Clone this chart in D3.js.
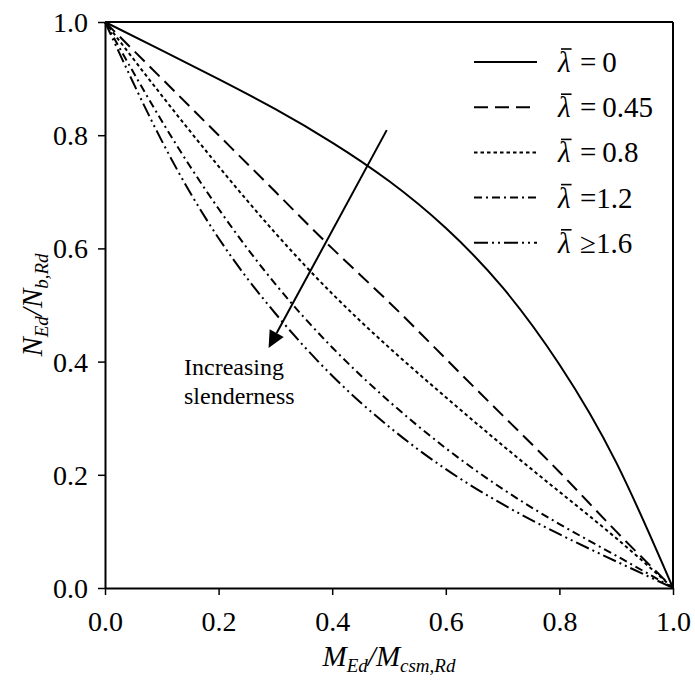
<!DOCTYPE html>
<html>
<head>
<meta charset="utf-8">
<script src="https://cdn.jsdelivr.net/npm/d3@7"></script>
<style>
  html, body { margin: 0; padding: 0; background: #fff; }
  svg { display: block; }
  svg text { font-family: "Liberation Serif", "Tinos", "Times New Roman", "Nimbus Roman", "DejaVu Serif", serif; fill: #000; }
</style>
</head>
<body>
<svg id="chart" width="695" height="682"></svg>
<script>
// ---- data ----
const xValues   = [0, 0.1, 0.2, 0.3, 0.4, 0.5, 0.6, 0.7, 0.8, 0.9, 1.0];
const lambda0   = [1, 0.950, 0.899, 0.846, 0.787, 0.719, 0.636, 0.531, 0.395, 0.222, 0];
const lambda045 = [1, 0.90, 0.80, 0.70, 0.60, 0.505, 0.405, 0.305, 0.205, 0.10, 0];
const lambda08  = [1, 0.87, 0.745, 0.627, 0.52, 0.425, 0.337, 0.252, 0.17, 0.088, 0];
const lambda12  = [1, 0.825, 0.67, 0.537, 0.425, 0.33, 0.247, 0.175, 0.113, 0.057, 0];
const lambda16  = [1, 0.79, 0.618, 0.485, 0.375, 0.285, 0.21, 0.148, 0.095, 0.047, 0];
const seriesOps    = ["=", "=", "=", "=", "≥"];
const seriesLabels = ["0", "0.45", "0.8", "1.2", "1.6"];
const xTicks = [0, 0.2, 0.4, 0.6, 0.8, 1.0];
const yTicks = [0, 0.2, 0.4, 0.6, 0.8, 1.0];
const annotationLines = ["Increasing", "slenderness"];
const arrowFrom = [0.496, 0.809];
const arrowTo   = [0.288, 0.424];

// ---- layout ----
const FONT = "'Liberation Serif','Tinos','Times New Roman','Nimbus Roman','DejaVu Serif',serif";
const svg = d3.select("#chart");
const pL = 105, pR = 673, pT = 22, pB = 588;
const x = d3.scaleLinear().domain([0, 1]).range([pL, pR]);
const y = d3.scaleLinear().domain([0, 1]).range([pB, pT]);

const seriesValues = [lambda0, lambda045, lambda08, lambda12, lambda16];
const dashes = [null, "14,7", "3.5,3", "8,4,2,4", "14,4,2,4,2,4"];

const line = d3.line()
  .x(d => x(d[0])).y(d => y(d[1]))
  .curve(d3.curveNatural);

// frame (top & right)
svg.append("line").attr("x1", pL).attr("x2", pR).attr("y1", pT).attr("y2", pT)
  .attr("stroke", "#000").attr("stroke-width", 2);
svg.append("line").attr("x1", pR).attr("x2", pR).attr("y1", pT).attr("y2", pB)
  .attr("stroke", "#000").attr("stroke-width", 2);

// curves
seriesValues.forEach((vals, i) => {
  const pts = xValues.map((xv, j) => [xv, vals[j]]);
  svg.append("path").datum(pts)
    .attr("d", line)
    .attr("fill", "none")
    .attr("stroke", "#000")
    .attr("stroke-width", 2)
    .attr("stroke-dasharray", dashes[i]);
});

// axes
const fmt = d3.format(".1f");
const gx = svg.append("g").attr("transform", `translate(0,${pB})`)
  .call(d3.axisBottom(x).tickValues(xTicks).tickFormat(fmt).tickSizeInner(7).tickSizeOuter(0).tickPadding(10));
const gy = svg.append("g").attr("transform", `translate(${pL},0)`)
  .call(d3.axisLeft(y).tickValues(yTicks).tickFormat(fmt).tickSizeInner(7).tickSizeOuter(0).tickPadding(10));
[gx, gy].forEach(g => {
  g.attr("font-family", null).attr("font-size", null);
  g.select(".domain").attr("stroke", "#000").attr("stroke-width", 2);
  g.selectAll(".tick line").attr("stroke", "#000").attr("stroke-width", 1.5);
  g.selectAll(".tick text").style("font-family", FONT)
    .style("font-size", "28px").attr("fill", "#000");
});
gx.selectAll(".tick text").attr("dy", "0.93em");
gy.selectAll(".tick text").attr("dy", "0.34em");

// axis titles
const xt = svg.append("text")
  .attr("x", (pL + pR) / 2).attr("y", 666)
  .attr("text-anchor", "middle").style("font-family", FONT)
  .style("font-size", "29px").style("font-style", "italic");
xt.append("tspan").text("M");
xt.append("tspan").attr("dy", 6).style("font-size", "19px").text("Ed");
xt.append("tspan").attr("dy", -6).text("/M");
xt.append("tspan").attr("dy", 6).style("font-size", "19px").text("csm,Rd");

const yt = svg.append("text")
  .attr("transform", `translate(42,${y(0.5)}) rotate(-90)`)
  .attr("text-anchor", "middle").style("font-family", FONT)
  .style("font-size", "29px").style("font-style", "italic");
yt.append("tspan").text("N");
yt.append("tspan").attr("dy", 6).style("font-size", "19px").text("Ed");
yt.append("tspan").attr("dy", -6).text("/N");
yt.append("tspan").attr("dy", 6).style("font-size", "19px").text("b,Rd");

// legend
const legY0 = 62, legDy = 45.2;
const gapAfterOp = ["\u2009", "\u2009", "\u2009", "", ""];
seriesLabels.forEach((lab, i) => {
  const ly = legY0 + i * legDy;
  svg.append("line").attr("x1", 474).attr("x2", 537).attr("y1", ly).attr("y2", ly)
    .attr("stroke", "#000").attr("stroke-width", 2).attr("stroke-dasharray", dashes[i]);
  const lam = svg.append("text").attr("x", 558).attr("y", ly + 10)
    .style("font-family", FONT).style("font-size", "29px").style("font-style", "italic").text("λ");
  const bb = lam.node().getBBox();
  svg.append("line").attr("x1", bb.x + 4).attr("x2", bb.x + bb.width + 1)
    .attr("y1", bb.y + 3).attr("y2", bb.y + 3)
    .attr("stroke", "#000").attr("stroke-width", 1.6);
  svg.append("text").attr("x", 580).attr("y", ly + 10)
    .style("font-family", FONT).style("font-size", "29px")
    .text(seriesOps[i] + gapAfterOp[i] + lab);
});

// arrow annotation
const ax1 = x(arrowFrom[0]), ay1 = y(arrowFrom[1]);
const ax2 = x(arrowTo[0]), ay2 = y(arrowTo[1]);
const ang = Math.atan2(ay2 - ay1, ax2 - ax1);
const headLen = 17, headW = 8;
const bx = ax2 - headLen * Math.cos(ang), by = ay2 - headLen * Math.sin(ang);
svg.append("line").attr("x1", ax1).attr("y1", ay1).attr("x2", bx).attr("y2", by)
  .attr("stroke", "#000").attr("stroke-width", 2);
svg.append("path")
  .attr("d", `M${ax2},${ay2} L${bx + headW * Math.sin(ang)},${by - headW * Math.cos(ang)} L${bx - headW * Math.sin(ang)},${by + headW * Math.cos(ang)} Z`)
  .attr("fill", "#000");

annotationLines.forEach((t, i) => {
  svg.append("text").attr("x", 184).attr("y", 375 + i * 28.5)
    .style("font-family", FONT).style("font-size", "24px").text(t);
});
</script>
</body>
</html>
